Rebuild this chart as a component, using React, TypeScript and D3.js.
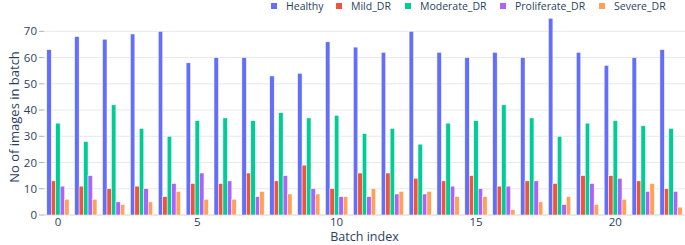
import React, { useEffect } from "react";
import * as d3 from "d3";

const batches = d3.range(0, 23);
const seriesNames = ["Healthy", "Mild_DR", "Moderate_DR", "Proliferate_DR", "Severe_DR"];
const healthy = [63, 68, 67, 69, 70, 58, 60, 60, 53, 54, 66, 64, 62, 70, 62, 60, 62, 60, 75, 62, 57, 60, 63];
const mild = [13, 11, 10, 11, 7, 12, 12, 16, 13, 19, 10, 16, 16, 14, 13, 15, 11, 13, 12, 15, 15, 13, 10];
const moderate = [35, 28, 42, 33, 30, 36, 37, 36, 39, 37, 38, 31, 33, 27, 35, 36, 42, 37, 30, 35, 36, 34, 33];
const proliferate = [11, 15, 5, 10, 12, 16, 13, 7, 15, 10, 7, 7, 8, 8, 11, 10, 11, 13, 4, 12, 14, 9, 9];
const severe = [6, 6, 4, 5, 9, 6, 6, 9, 8, 8, 7, 10, 9, 9, 7, 7, 2, 5, 7, 4, 6, 12, 3];
const colors = ["#636efa", "#EF553B", "#00cc96", "#ab63fa", "#FFA15A"];
const yTicks = [0, 10, 20, 30, 40, 50, 60, 70];
const xTicks = [0, 5, 10, 15, 20];

const W = 685, H = 245;
const left = 44, right = 685, top = 8, bottom = 215;
const font = "'Open Sans', sans-serif";
const textColor = "#2a3f5f";

export default function App() {
  useEffect(() => {
    document.body.style.margin = "0";
  }, []);
  const allSeries = [healthy, mild, moderate, proliferate, severe];
  const x = d3.scaleBand<number>().domain(batches).range([left, right]).paddingInner(0.2).paddingOuter(0.1);
  const xs = d3.scaleBand<number>().domain(d3.range(seriesNames.length)).range([0, x.bandwidth()]);
  const y = d3.scaleLinear().domain([0, 78.9]).range([bottom, top]);
  const legendX = [271, 336, 405, 500, 599];
  return (
    <svg width={W} height={H} style={{ display: "block", background: "#fff" }} fontFamily={font}>
      {yTicks.map((t) => (
        <g key={t}>
          <line x1={left} x2={right} y1={y(t)} y2={y(t)} stroke={t === 0 ? "#e1e1e1" : "#e8e8e8"} strokeWidth={t === 0 ? 1.5 : 1} />
          <line x1={left - 5} x2={left} y1={y(t)} y2={y(t)} stroke="#b0b0b0" strokeWidth={1} />
          <text x={left - 7} y={y(t)} dy="0.35em" textAnchor="end" fontSize={11.5} fill={textColor}>{t}</text>
        </g>
      ))}
      {allSeries.map((vals, si) => (
        <g key={si} fill={colors[si]}>
          {vals.map((v, i) => (
            <rect key={i} x={(x(batches[i]) as number) + (xs(si) as number)} y={y(v)} width={xs.bandwidth()} height={y(0) - y(v)} stroke="#ffffff" strokeWidth={0.5} />
          ))}
        </g>
      ))}
      {xTicks.map((t) => (
        <text key={t} x={(x(t) as number) + x.bandwidth() / 2} y={222} dy="0.35em" textAnchor="middle" fontSize={11.5} fill={textColor}>{t}</text>
      ))}
      <text x={(left + right) / 2} y={236.5} dy="0.35em" textAnchor="middle" fontSize={12.5} fill={textColor}>Batch index</text>
      <text transform={`translate(14,117) rotate(-90)`} dy="0.35em" textAnchor="middle" fontSize={13} fill={textColor}>No of images in batch</text>
      {seriesNames.map((n, i) => (
        <g key={n}>
          <rect x={legendX[i]} y={3} width={6} height={6} fill={colors[i]} />
          <text x={legendX[i] + 15} y={6.8} dy="0.35em" fontSize={10.5} fill={textColor}>{n}</text>
        </g>
      ))}
    </svg>
  );
}
